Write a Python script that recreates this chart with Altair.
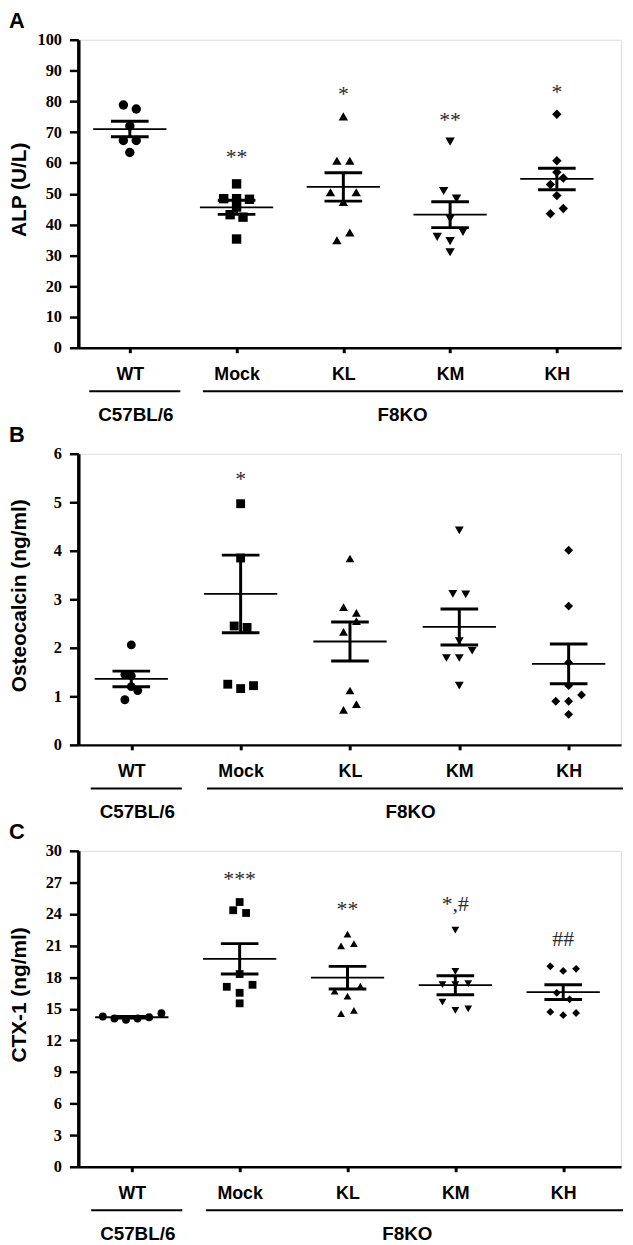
import altair as alt
import pandas as pd

SANS = "Liberation Sans"
SERIF = "Liberation Serif"

cats = ["WT", "Mock", "KL", "KM", "KH"]
shapes = ["circle", "square", "triangle-up", "triangle-down", "diamond"]
groups = ["C57BL/6", "F8KO"]
group_first = [0, 1]
group_last = [0, 4]

# ---------------- Panel A : ALP (U/L) ----------------
alp_WT = [78.8, 77.5, 72.0, 67.3, 67.3, 63.4]
alp_Mock = [53.2, 48.4, 48.4, 48.2, 45.7, 43.2, 42.4, 35.3]
alp_KL = [75.1, 60.7, 60.7, 50.5, 50.5, 47.3, 37.4, 34.9]
alp_KM = [66.9, 50.9, 48.4, 41.9, 37.6, 36.0, 34.6, 31.0]
alp_KH = [75.8, 60.7, 57.0, 55.1, 53.0, 49.4, 45.2, 43.5]
alp_WT_slot = [-1, 1, 0, -1, 1, 0]
alp_Mock_slot = [0, -2, 0, 2, 0, -1, 1, 0]
alp_KL_slot = [0, -1, 1, -2, 2, 0, 1, -1]
alp_KM_slot = [0, -1, 1, 0, 2, -2, 0, 0]
alp_KH_slot = [0, 0, 0, 1, -1, 0, 1, -1]
alp_mean = [71.0, 45.6, 52.2, 43.2, 54.8]
alp_sem = [2.5, 2.3, 4.6, 4.2, 3.5]
alp_sig = ["", "**", "*", "**", "*"]
alp_sig_y = [0, 63.4, 84.1, 75.5, 84.6]

# ---------------- Panel B : Osteocalcin (ng/ml) ----------------
ost_WT = [2.06, 1.45, 1.42, 1.20, 1.12, 0.93]
ost_Mock = [4.97, 3.85, 2.45, 2.42, 1.25, 1.22, 1.16]
ost_KL = [3.84, 2.84, 2.72, 2.55, 2.33, 1.12, 0.84, 0.72]
ost_KM = [4.42, 3.11, 3.10, 2.14, 1.94, 1.79, 1.79, 1.22]
ost_KH = [4.01, 2.86, 1.70, 1.22, 1.03, 0.90, 0.90, 0.63]
ost_WT_slot = [0, -1, 0, 0, 1, -1]
ost_Mock_slot = [0, 0, -1, 1, -2, 2, 0]
ost_KL_slot = [0, -1, 1, 1, -1, 0, 1, -1]
ost_KM_slot = [0, -1, 1, 0, 2, -2, 0, 0]
ost_KH_slot = [0, 0, 0, 0, 2, -2, 0, 0]
ost_mean = [1.36, 3.11, 2.13, 2.43, 1.67]
ost_sem = [0.16, 0.80, 0.40, 0.37, 0.41]
ost_sig = ["", "*", "", "", ""]
ost_sig_y = [0, 5.58, 0, 0, 0]

# ---------------- Panel C : CTX-1 (ng/ml) ----------------
ctx_WT = [14.27, 14.08, 13.96, 14.08, 14.20, 14.58]
ctx_Mock = [25.14, 24.36, 24.10, 18.30, 17.28, 17.09, 16.52, 15.52]
ctx_KL = [22.10, 21.20, 20.97, 17.15, 16.68, 16.20, 14.86, 14.55]
ctx_KM = [22.48, 18.56, 17.40, 17.30, 17.30, 15.64, 15.00, 14.86]
ctx_KH = [19.03, 18.80, 18.60, 16.52, 15.90, 14.70, 14.60, 14.40]
ctx_WT_slot = [-4.5, -2.7, -0.9, 0.9, 2.7, 4.6]
ctx_Mock_slot = [0, -1, 1, 0, 2, -2, 0, 0]
ctx_KL_slot = [0, 1, -1, 2, -2, 0, 1, -1]
ctx_KM_slot = [0, 0, 2, -2, 0, -2, 2, 0]
ctx_KH_slot = [-2, 2, 0, -1, 1, -2, 2, 0]
ctx_mean = [14.2, 19.75, 17.96, 17.24, 16.58]
ctx_sem = [0.08, 1.44, 1.07, 0.90, 0.70]
ctx_sig = ["", "***", "**", "*,#", "##"]
ctx_sig_y = [0, 27.8, 24.9, 25.0, 21.7]

W = 548          # plot width (px)
LEFT = 78        # page x of y axis
SLOT_PX = 6.5    # horizontal spread step of points


def panel(letter, title, vals, slots, means, sems, sig, sig_y,
          t0, step, H, ymax, ystep, title_y, msize):
    x0 = -(t0 - LEFT) / step
    x1 = (W - (t0 - LEFT)) / step
    rows = []
    for gi, c in enumerate(cats):
        for v, sl in zip(vals[gi], slots[gi]):
            rows.append({"group": c, "value": v, "gi": gi, "slot": sl})
    pts = pd.DataFrame(rows)
    summ = pd.DataFrame({"group": cats, "gi": list(range(5)),
                         "mean": means, "sem": sems})
    sigdf = pd.DataFrame({"gi": list(range(5)), "label": sig, "y": sig_y})
    sigdf = sigdf[sigdf["label"] != ""]
    grp = pd.DataFrame({"name": groups, "first": group_first, "last": group_last})
    let = pd.DataFrame({"t": [letter]})

    xscale = alt.Scale(domain=[x0, x1], nice=False, zero=False)
    yscale = alt.Scale(domain=[0, ymax], nice=False, zero=False)
    lab_expr = "[" + ",".join("'%s'" % c for c in cats) + "][datum.value]"
    xaxis = alt.Axis(values=list(range(5)), labelExpr=lab_expr, title=None,
                     grid=False, domainColor="black", domainWidth=2.5,
                     tickColor="black", tickWidth=3, tickSize=5,
                     labelFont=SANS, labelFontSize=18, labelFontWeight="bold",
                     labelColor="black", labelPadding=13)
    n = int(round(ymax / ystep))
    yvals = [round(i * ystep, 4) for i in range(n + 1)]
    yaxis = alt.Axis(values=yvals, format="d", title=title, grid=False,
                     domainColor="black", domainWidth=3.5,
                     tickColor="black", tickWidth=2.5, tickSize=9,
                     labelFont=SERIF, labelFontSize=16.5, labelFontWeight="bold",
                     labelColor="black", labelPadding=8,
                     titleFont=SANS, titleFontSize=21, titleFontWeight="bold",
                     titleColor="black", titleAngle=270, titleAlign="center",
                     titleBaseline="middle", titleX=-59, titleY=title_y)

    X = lambda f: alt.X(f, type="quantitative", scale=xscale, axis=xaxis)
    Y = lambda f: alt.Y(f, type="quantitative", scale=yscale, axis=yaxis)

    points = alt.Chart(pts).transform_calculate(
        xpos=f"datum.gi + datum.slot * {SLOT_PX / step}"
    ).mark_point(filled=True, opacity=1, color="black", size=msize).encode(
        x=X("xpos"), y=Y("value"),
        shape=alt.Shape("group:N", scale=alt.Scale(domain=cats, range=shapes),
                        legend=None))

    base = alt.Chart(summ).transform_calculate(
        ml=f"datum.gi - {37 / step}", mr=f"datum.gi + {37 / step}",
        cl=f"datum.gi - {19 / step}", cr=f"datum.gi + {19 / step}",
        lo="datum.mean - datum.sem", hi="datum.mean + datum.sem")
    mean_rule = base.mark_rule(color="black", strokeWidth=1.8).encode(
        x=X("ml"), x2="mr:Q", y=Y("mean"))
    cap_hi = base.mark_rule(color="black", strokeWidth=3).encode(
        x=X("cl"), x2="cr:Q", y=Y("hi"))
    cap_lo = base.mark_rule(color="black", strokeWidth=3).encode(
        x=X("cl"), x2="cr:Q", y=Y("lo"))
    vert = base.mark_rule(color="black", strokeWidth=3).encode(
        x=X("gi"), y=Y("lo"), y2="hi:Q")

    star = alt.Chart(sigdf).transform_filter(
        "indexof(datum.label, '#') < 0"
    ).mark_text(font=SERIF, fontSize=22, color="#2a2a2a", baseline="middle",
                dy=5).encode(x=X("gi"), y=Y("y"), text="label:N")
    hashes = alt.Chart(sigdf).transform_filter(
        "indexof(datum.label, '#') >= 0"
    ).mark_text(font=SERIF, fontSize=22, color="#2a2a2a", baseline="middle",
                dy=1).encode(x=X("gi"), y=Y("y"), text="label:N")

    gbase = alt.Chart(grp).transform_calculate(
        xs=f"datum.first - (datum.first == 0 ? {41 / step} : {34 / step})",
        xe=f"datum.last == 4 ? {x1 + 2 / step} : datum.last + {51 / step}",
        xm=f"(datum.first + datum.last) / 2 + {6 / step}")
    gline = gbase.mark_rule(color="black", strokeWidth=2).encode(
        x=X("xs"), x2="xe:Q", y=alt.value(H + 44))
    gtext = gbase.mark_text(font=SANS, fontSize=19, fontWeight="bold",
                            color="black", baseline="middle").encode(
        x=X("xm"), y=alt.value(H + 68), text="name:N")

    lt = alt.Chart(let).mark_text(font=SANS, fontSize=22, fontWeight="bold",
                                  color="black", align="left",
                                  baseline="top").encode(
        x=alt.value(-70), y=alt.value(-29), text="t:N")

    return alt.layer(points, mean_rule, cap_hi, cap_lo, vert, star, hashes,
                     gline, gtext, lt).properties(width=W, height=H)


pA = panel("A", "ALP (U/L)",
           [alp_WT, alp_Mock, alp_KL, alp_KM, alp_KH],
           [alp_WT_slot, alp_Mock_slot, alp_KL_slot, alp_KM_slot, alp_KH_slot],
           alp_mean, alp_sem, alp_sig, alp_sig_y,
           t0=130, step=107.8, H=311, ymax=100, ystep=10, title_y=151, msize=90)
pB = panel("B", "Osteocalcin (ng/ml)",
           [ost_WT, ost_Mock, ost_KL, ost_KM, ost_KH],
           [ost_WT_slot, ost_Mock_slot, ost_KL_slot, ost_KM_slot, ost_KH_slot],
           ost_mean, ost_sem, ost_sig, ost_sig_y,
           t0=131.5, step=110.4, H=294, ymax=6, ystep=1, title_y=143, msize=80)
pC = panel("C", "CTX-1 (ng/ml)",
           [ctx_WT, ctx_Mock, ctx_KL, ctx_KM, ctx_KH],
           [ctx_WT_slot, ctx_Mock_slot, ctx_KL_slot, ctx_KM_slot, ctx_KH_slot],
           ctx_mean, ctx_sem, ctx_sig, ctx_sig_y,
           t0=132, step=108.9, H=319, ymax=30, ystep=3, title_y=145, msize=62)

chart = alt.vconcat(pA, pB, pC, spacing=107, bounds="flush",
                    padding={"top": -5, "left": 0, "right": 0, "bottom": 0}
                    ).configure_view(stroke=None).configure(background="white")

chart.save("out.html", embed_options={"renderer": "svg", "actions": False})
